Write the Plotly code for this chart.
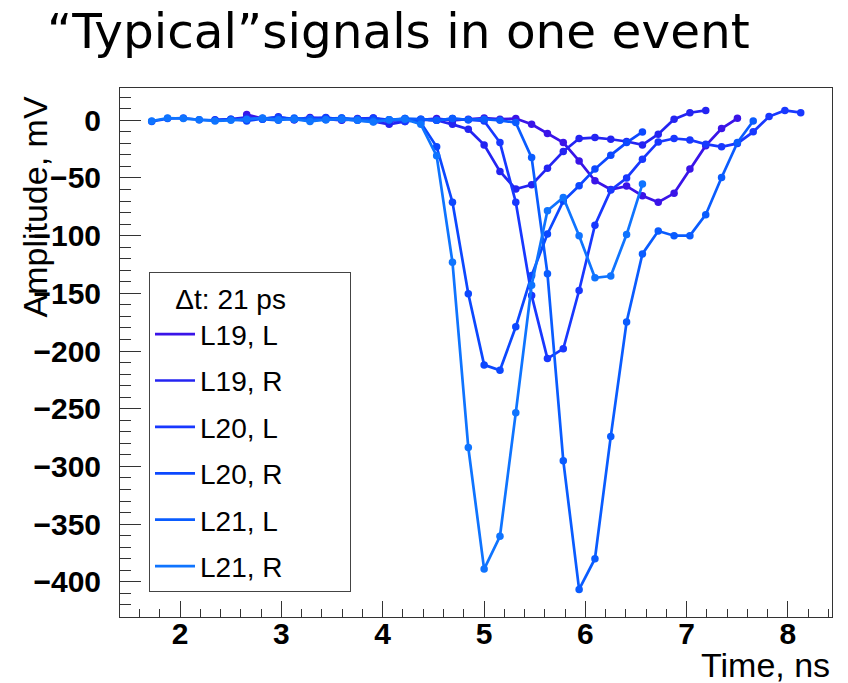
import plotly.graph_objects as go

# ---- data ----
SAMPLE_DT = 0.15625  # ns between samples
CHANNELS = ["L19, L", "L19, R", "L20, L", "L20, R", "L21, L", "L21, R"]
START_TIMES = [2.6575, 2.345, 3.2825, 1.72, 2.81375, 1.72]
COLORS = ["#3a14e8", "#2424f2", "#1838ff", "#0c48ff", "#0a5cff", "#0f74ff"]

L19_L = [5.0, 1.5, 2.0, 0.5, 2.5, 1.0, 0.0, 1.5, 2.0, -0.5, 1.0, 0.5, 1.5, 0.0, 1.0, 2.0, 1.0,
         1.5, -3.5, -11.5, -19.3, -35.2, -52.4, -60.0, -57.0, -65.4, -71.0, -63.3, -42.3, -22.0, -7.2, 1.7]
L19_R = [0.5, 1.0, 2.5, 1.0, 3.0, 0.5, 1.5, 2.0, 1.0, 0.0, -1.0, -3.5, -1.0, 0.5, 0.0,
         -3.5, -7.8, -21.3, -44.3, -59.6, -55.9, -41.5, -27.0, -15.8, -15.0, -16.4, -18.4, -21.3, -12.0, 0.9, 6.6, 8.6]
L20_L = [1.5, 2.5, 0.5, 1.0, 2.0, 0.5, -1.0, 1.0, 0.0, 1.5, 0.5,
         -0.6, -19.3, -71.0, -151.8, -206.5, -198.0, -147.5, -91.0, -60.5, -50.0, -33.7, -18.7, -15.8,
         -17.0, -20.7, -23.0, -20.0, -10.0, 3.2, 8.6, 6.6]
L20_R = [-1.0, 1.5, 2.0, 0.5, 0.0, 1.0, -0.5, 1.5, 2.5, 1.0, 0.0, 1.5, 2.0, 0.5, 1.0, 0.0, 1.5,
         -2.0, -23.0, -71.0, -150.3, -212.0, -216.6, -179.0, -134.5, -98.5, -70.0, -56.7, -42.3, -30.2, -19.3, -10.1]
L21_L = [1.0, 0.0, 2.0, 1.5, 0.5, 2.0, 1.0, -0.5, 0.5, 1.5, 1.0, 0.0, 1.5, 0.5, 1.0, 0.0,
         -2.0, -32.3, -133.0, -295.0, -406.6, -380.0, -274.0, -174.8, -115.8, -96.0, -100.0, -100.0,
         -81.8, -49.5, -19.3, -0.6]
L21_R = [-0.6, 2.0, 1.5, 0.5, -0.5, 0.0, 1.0, 2.0, 0.5, 1.0, -1.0, 0.5, 1.0, 0.0, -1.5, 0.5, 1.0,
         -3.5, -30.8, -123.0, -283.6, -389.0, -360.5, -253.4, -143.0, -78.4, -66.8, -100.0, -136.5,
         -135.0, -99.0, -55.3]
SERIES = [L19_L, L19_R, L20_L, L20_R, L21_L, L21_R]

X_TICKS = [2, 3, 4, 5, 6, 7, 8]
Y_TICKS = [0, -50, -100, -150, -200, -250, -300, -350, -400]

W, H = 848, 683
ML, MR, MT, MB = 120, 16, 88, 66
PW, PH = W - ML - MR, H - MT - MB
PAD = "\u00a0" * 8  # widens the legend box like the reference

fig = go.Figure()
for name, t0, vals, col in zip(CHANNELS, START_TIMES, SERIES, COLORS):
    times = [t0 + i * SAMPLE_DT for i in range(len(vals))]
    fig.add_trace(go.Scatter(
        x=times, y=vals, mode="lines+markers", name=name, showlegend=False,
        line=dict(color=col, width=2.7), marker=dict(color=col, size=7.5, symbol="circle"),
    ))
for i, (name, col) in enumerate(zip(CHANNELS, COLORS)):
    fig.add_trace(go.Scatter(
        x=[None], y=[None], mode="lines", name=name + PAD, legendgroup="g%d" % i,
        line=dict(color=col, width=2.7), showlegend=True,
    ))

axis_common = dict(
    showgrid=False, zeroline=False, showline=True, mirror=True,
    linecolor="#333333", linewidth=1, ticks="inside", tickcolor="#333333",
    tickfont=dict(family="Liberation Sans", size=30, color="black", weight="bold"),
)
fig.update_xaxes(range=[1.407, 8.435], tickvals=X_TICKS, ticklen=16,
                 minor=dict(ticks="inside", dtick=0.2, ticklen=8, tickcolor="#333333"),
                 ticklabelstandoff=-10, **axis_common)
fig.update_yaxes(range=[-430.5, 28], tickvals=Y_TICKS, ticklen=21,
                 minor=dict(ticks="inside", dtick=10, ticklen=11, tickcolor="#333333"),
                 ticklabelstandoff=12, **axis_common)

fig.update_layout(
    width=W, height=H, autosize=False,
    margin=dict(l=ML, r=MR, t=MT, b=MB, pad=0),
    plot_bgcolor="white", paper_bgcolor="white",
    title=dict(text="“Typical”signals in one event", x=47 / W, xanchor="left",
               xref="container", y=1 - 31 / H, yanchor="middle",
               font=dict(family="DejaVu Sans", size=48.5, color="black")),
    legend=dict(
        x=(149 - ML) / PW, y=1 - (272 - MT) / PH, xanchor="left", yanchor="top",
        bgcolor="white", bordercolor="#444444", borderwidth=1,
        font=dict(family="Liberation Sans", size=28, color="black"),
        title=dict(text="\u00a0\u00a0\u00a0Δt: 21 ps",
                   font=dict(family="Liberation Sans", size=28, color="black")),
        tracegroupgap=7, itemwidth=40, traceorder="grouped",
    ),
    annotations=[
        dict(text="Time, ns", xref="paper", yref="paper", x=1, y=-(665 - MT - PH) / PH,
             xanchor="right", yanchor="middle", showarrow=False,
             font=dict(family="Liberation Sans", size=34, color="black")),
        dict(text="Amplitude, mV", xref="paper", yref="paper", x=(34 - ML) / PW, y=1 - (95 - MT) / PH,
             xanchor="center", yanchor="top", textangle=-90, showarrow=False,
             font=dict(family="Liberation Sans", size=34, color="black")),
    ],
)

fig.write_html("out.html")
